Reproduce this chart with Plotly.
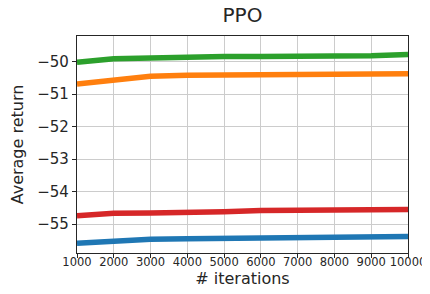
import plotly.graph_objects as go

iterations = [1000, 2000, 3000, 4000, 5000, 6000, 7000, 8000, 9000, 10000]
blue = [-55.59, -55.51, -55.47, -55.45, -55.44, -55.42, -55.41, -55.40, -55.39, -55.38]
orange = [-50.69, -50.57, -50.45, -50.42, -50.41, -50.40, -50.38, -50.38, -50.38, -50.37]
green = [-50.02, -49.91, -49.89, -49.85, -49.84, -49.84, -49.84, -49.83, -49.82, -49.78]
red = [-54.74, -54.67, -54.66, -54.65, -54.62, -54.58, -54.57, -54.56, -54.55, -54.55]
ytick_vals = [-55, -54, -53, -52, -51, -50]

series = [(blue, "#1f77b4"), (orange, "#ff7f0e"), (green, "#2ca02c"), (red, "#d62728")]

fig = go.Figure()
for ys, c in series:
    fig.add_trace(go.Scatter(x=iterations, y=ys, mode="lines",
                             line=dict(color=c, width=5.5), showlegend=False))

font = "DejaVu Sans"
fig.update_layout(
    width=430, height=294,
    margin=dict(l=69, r=26, t=28, b=49),
    paper_bgcolor="white", plot_bgcolor="white",
    font=dict(family=font, color="#262626"),
    title=dict(text="PPO", x=0.5, xanchor="center", y=1, yanchor="top",
               pad=dict(t=0), xref="paper",
               font=dict(size=20, family=font, color="#262626")),
)
fig.update_xaxes(range=[1000, 10000], tickvals=iterations,
                 ticktext=[str(v) for v in iterations],
                 title=dict(text="# iterations", font=dict(size=16), standoff=0),
                 tickfont=dict(size=11.5), ticklabelstandoff=-6,
                 showgrid=True, gridcolor="#cccccc", gridwidth=1,
                 showline=True, linecolor="#262626", linewidth=1.2, mirror=True,
                 ticks="outside", ticklen=4, tickcolor="#262626", zeroline=False)
fig.update_yaxes(range=[-55.89, -49.21], tickvals=ytick_vals,
                 ticktext=["\u2212" + str(abs(v)) for v in ytick_vals], automargin=False,
                 title=dict(text="Average return", font=dict(size=16), standoff=15),
                 tickfont=dict(size=15),
                 showgrid=True, gridcolor="#cccccc", gridwidth=1,
                 showline=True, linecolor="#262626", linewidth=1.2, mirror=True,
                 ticks="outside", ticklen=4, tickcolor="#262626", zeroline=False)

fig.write_html("out.html")
